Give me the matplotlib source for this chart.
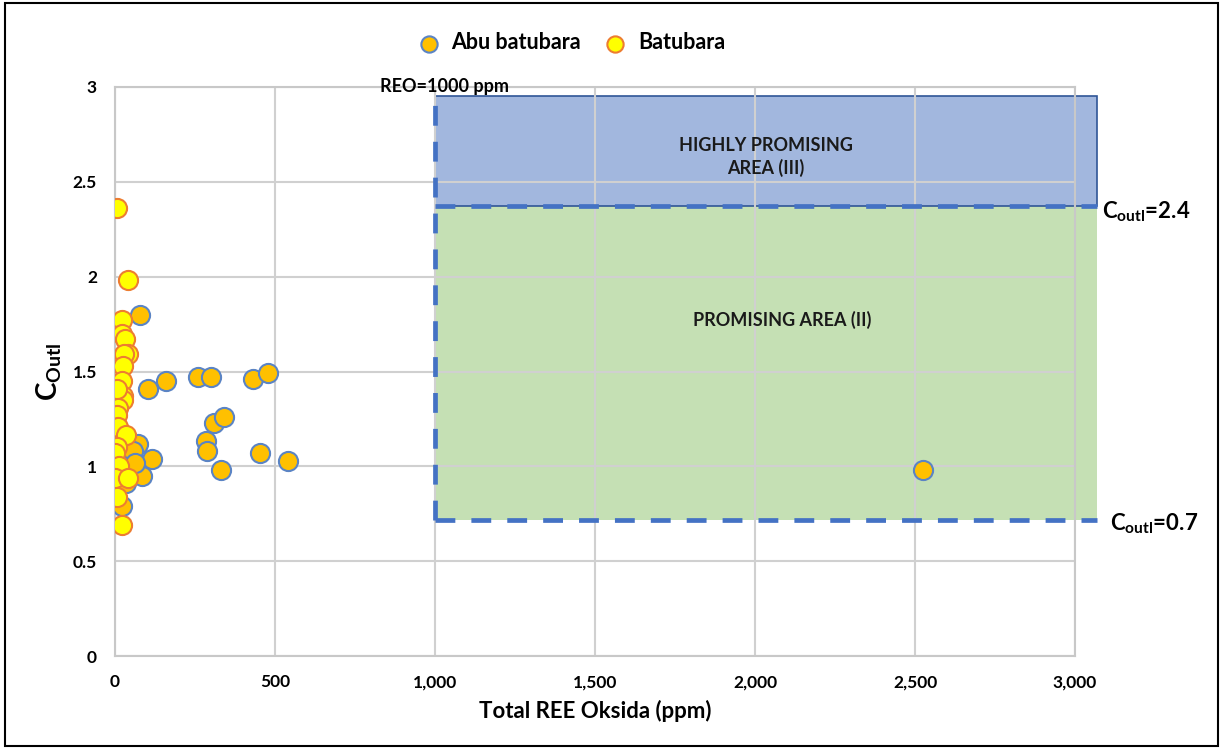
import matplotlib
matplotlib.use("Agg")
import matplotlib.pyplot as plt
from matplotlib.patches import Rectangle
from matplotlib.ticker import FuncFormatter, MultipleLocator

plt.rcParams['font.family'] = ['Lato', 'DejaVu Sans']
plt.rcParams['mathtext.fontset'] = 'custom'
plt.rcParams['mathtext.rm'] = 'Lato'
plt.rcParams['mathtext.bf'] = 'Lato:bold'

# Total REE oxide (ppm) and C_outl for each sample group
abu_reo = [78, 102, 161, 258, 299, 432, 479, 310, 342, 284, 288, 331, 454, 542,
           115, 71, 85, 57, 62, 33, 21, 2525]
abu_c = [1.80, 1.41, 1.45, 1.47, 1.47, 1.46, 1.49, 1.23, 1.26, 1.135, 1.08, 0.98,
         1.07, 1.03, 1.04, 1.12, 0.95, 1.08, 1.02, 0.91, 0.79, 0.98]

bb_reo = [7, 40, 21, 23, 31, 40, 29, 26, 21, 24, 26, 5, 10, 5, 10, 34, 5, 0,
          14, 1, 42, 5, 21]
bb_c = [2.36, 1.98, 1.77, 1.70, 1.67, 1.59, 1.59, 1.53, 1.45, 1.37, 1.35, 1.41,
        1.31, 1.27, 1.21, 1.165, 1.10, 1.07, 1.00, 0.94, 0.94, 0.84, 0.69]

# Zone thresholds
reo_cut = 1000
c_low, c_high, c_top = 0.72, 2.37, 2.95
zone_right = 3070

fig = plt.figure(figsize=(12.23, 7.49), dpi=100)
ax = fig.add_axes([0.094, 0.124, 0.785, 0.76])

# frame around the whole figure
fig.add_artist(Rectangle((0.004, 0.004), 0.992, 0.992, transform=fig.transFigure,
                         fill=False, edgecolor='black', linewidth=1.5))

# zones
ax.add_patch(Rectangle((reo_cut, c_low), zone_right - reo_cut, c_high - c_low,
                       facecolor='#C5E0B4', edgecolor='none', zorder=0.2, clip_on=False))
ax.add_patch(Rectangle((reo_cut, c_high), zone_right - reo_cut, c_top - c_high,
                       facecolor='#A2B7DE', edgecolor='#2F5597', linewidth=1.2,
                       zorder=0.2, clip_on=False))

dash = (0, (4.2, 3.4))
for xs, ys in [([reo_cut, reo_cut], [c_low, c_top]),
               ([reo_cut, zone_right], [c_high, c_high]),
               ([reo_cut, zone_right], [c_low, c_low])]:
    ax.plot(xs, ys, color='#4472C4', lw=3.4, linestyle=dash, zorder=1.5, clip_on=False)

ax.scatter(abu_reo, abu_c, s=190, facecolor='#FFC000', edgecolor='#5B84C4',
           linewidth=1.5, zorder=3, label='Abu batubara')
ax.scatter(bb_reo, bb_c, s=190, facecolor='#FFFF00', edgecolor='#ED7D31',
           linewidth=1.5, zorder=4, label='Batubara')

ax.set_xlim(0, 3000)
ax.set_ylim(0, 3)
ax.xaxis.set_major_locator(MultipleLocator(500))
ax.yaxis.set_major_locator(MultipleLocator(0.5))
ax.xaxis.set_major_formatter(FuncFormatter(lambda v, p: f"{int(v):,}"))
ax.yaxis.set_major_formatter(FuncFormatter(lambda v, p: f"{v:g}"))
ax.set_axisbelow(True)
ax.grid(True, color='#D0D0D0', linewidth=1.5, zorder=0.5)
for s in ax.spines.values():
    s.set_color('#C8C8C8')
    s.set_linewidth(1.5)
ax.tick_params(length=0, pad=13, labelsize=12.5)
for lab in ax.get_xticklabels() + ax.get_yticklabels():
    lab.set_fontweight('bold')

ax.set_xlabel('Total REE Oksida (ppm)', fontsize=16, fontweight='bold', labelpad=7)
ax.set_ylabel(r'$\mathbf{C_{Outl}}$', fontsize=20, labelpad=6)

ax.text(1031, 3.0, 'REO=1000 ppm', ha='center', va='center', fontsize=13,
        fontweight='bold', zorder=5, clip_on=False)
ax.text(2034, 2.63, 'HIGHLY PROMISING\nAREA (III)', ha='center', va='center',
        fontsize=13, fontweight='bold', linespacing=1.3, color='#1a1a1a')
ax.text(2084, 1.77, 'PROMISING AREA (II)', ha='center', va='center',
        fontsize=13, fontweight='bold', color='#1a1a1a')
ax.text(3085, 2.34, r'$\mathbf{C_{outl}}$=2.4', ha='left', va='center',
        fontsize=16, fontweight='bold', clip_on=False)
ax.text(3110, 0.70, r'$\mathbf{C_{outl}}$=0.7', ha='left', va='center',
        fontsize=16, fontweight='bold', clip_on=False)

leg = fig.legend(loc='center', bbox_to_anchor=(0.463, 0.943), ncol=2, frameon=False,
                 prop={'weight': 'bold', 'size': 15.5}, handletextpad=0.05,
                 columnspacing=0.6, markerscale=0.85)

fig.savefig('out.png', dpi=100)
